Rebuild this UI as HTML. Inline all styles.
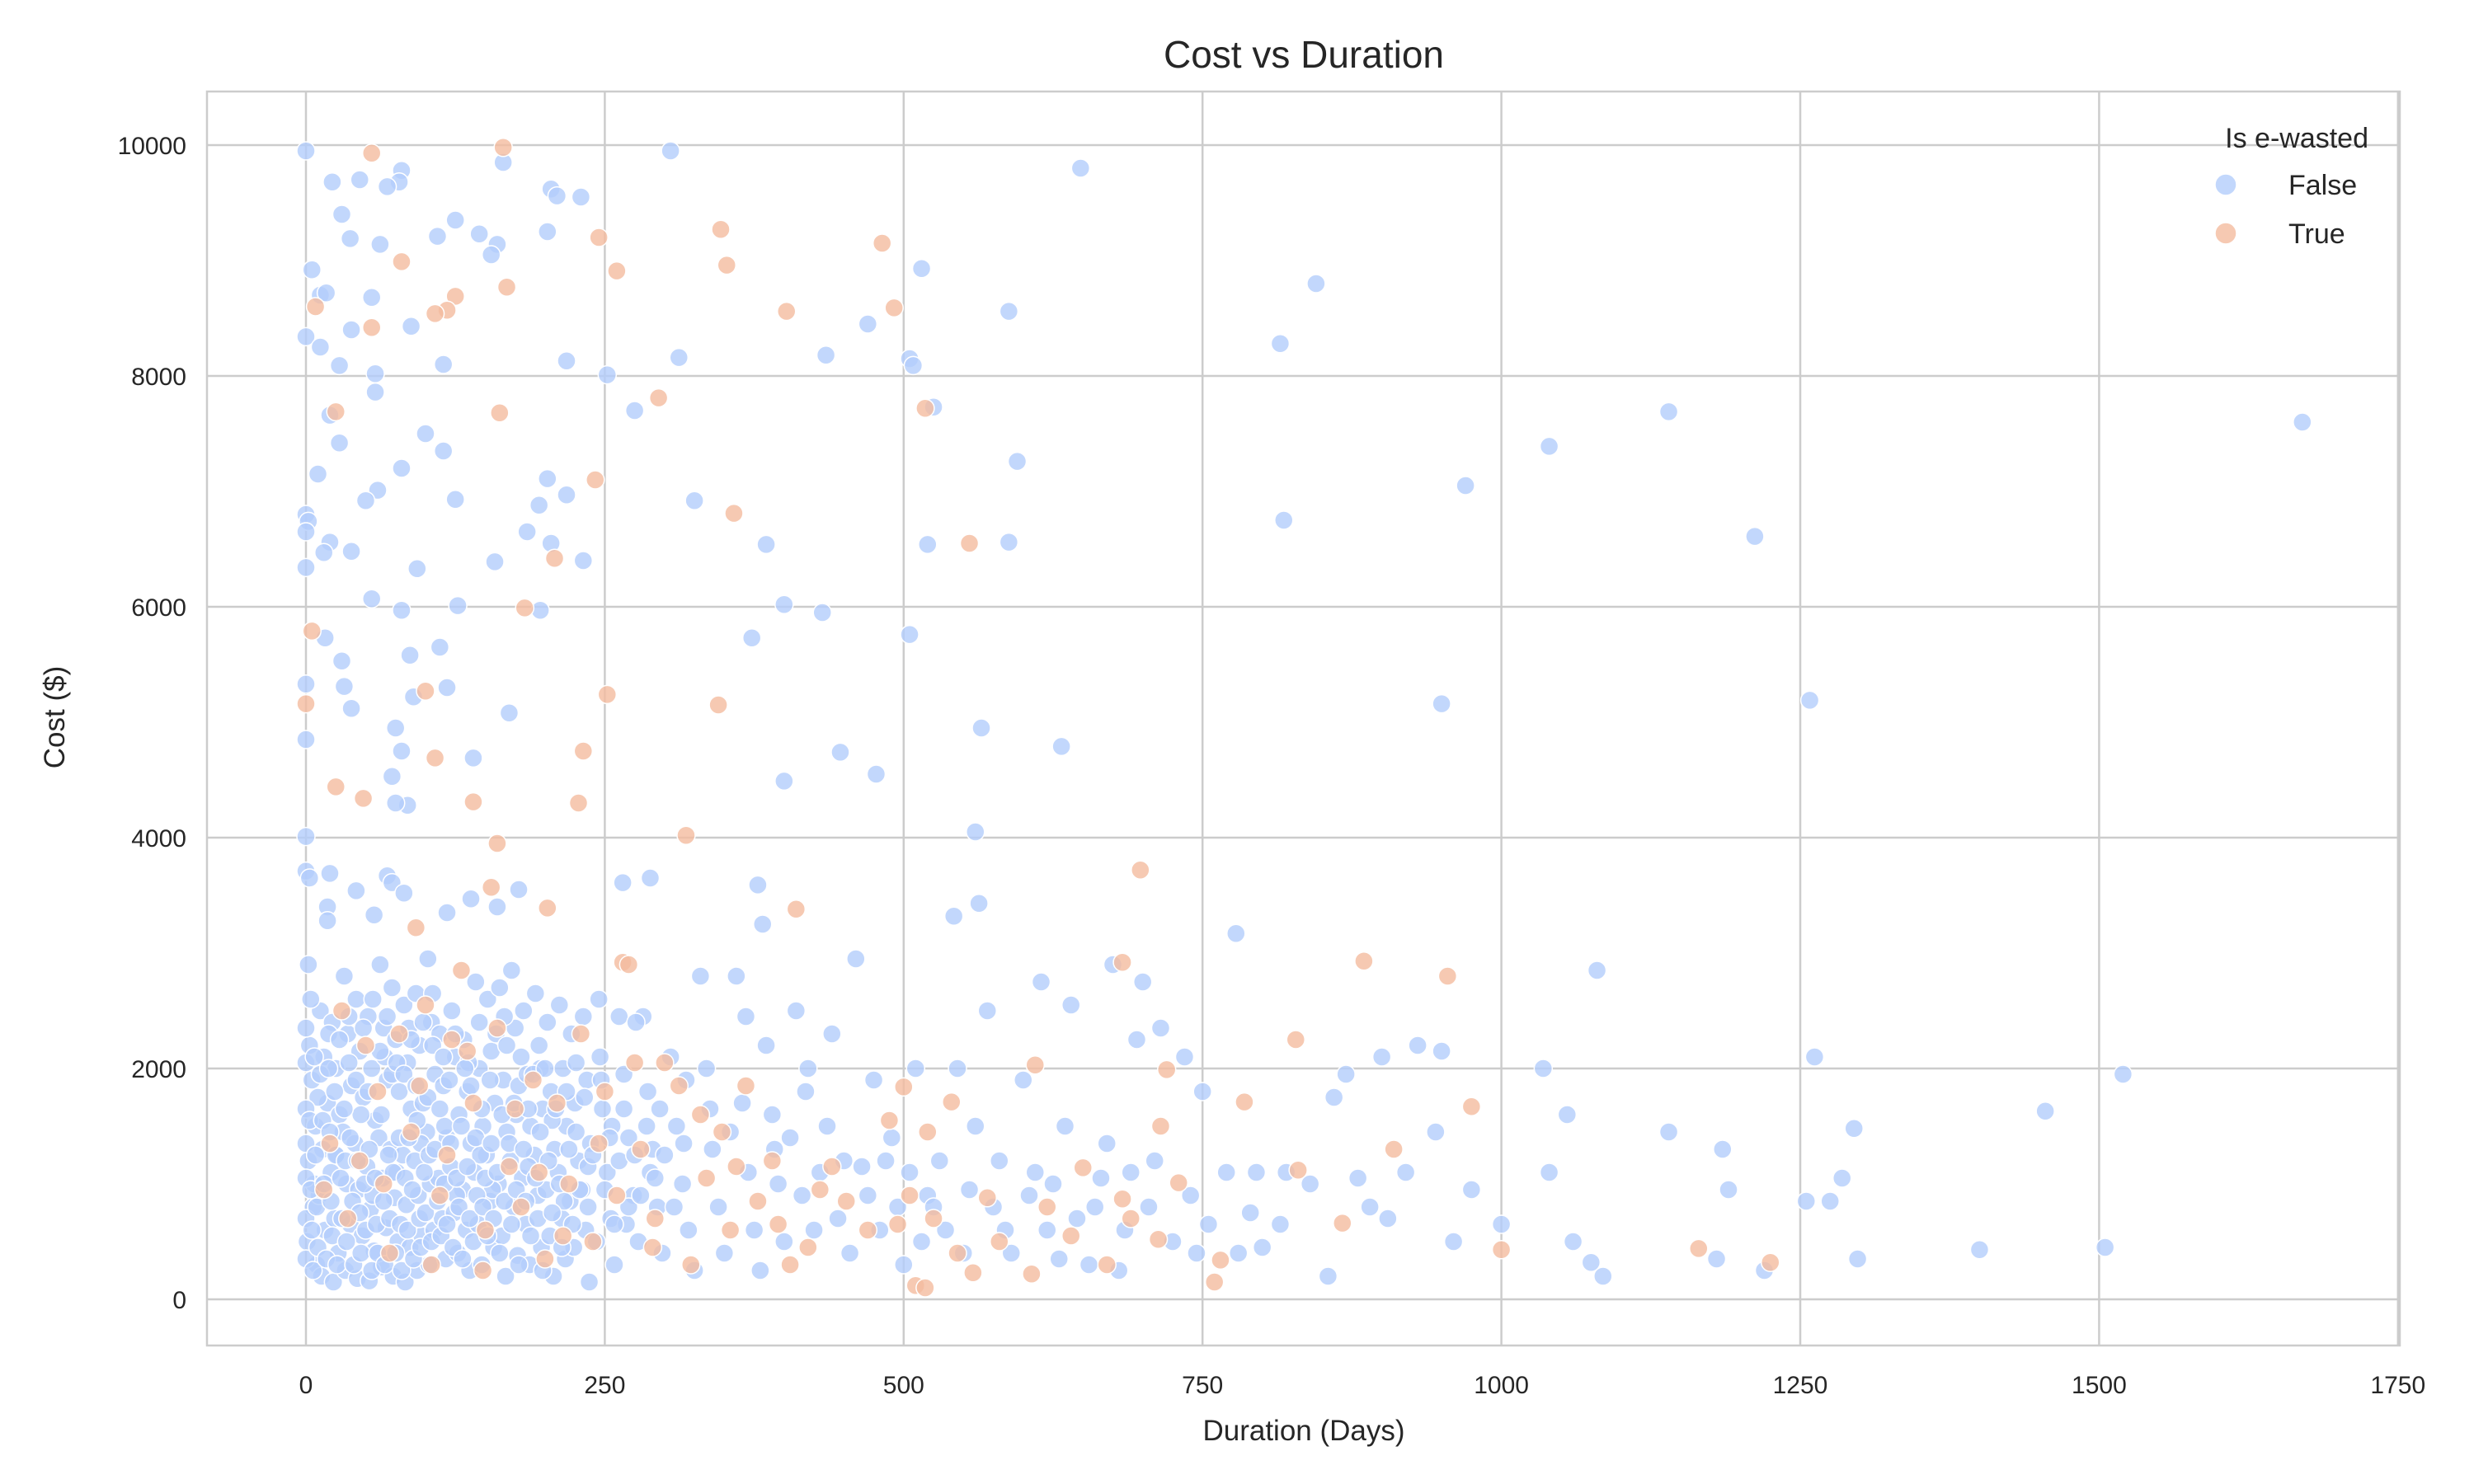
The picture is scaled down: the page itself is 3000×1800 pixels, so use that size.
<!DOCTYPE html>
<html><head><meta charset="utf-8"><style>
html,body{margin:0;padding:0;background:#fff;}
svg{display:block;font-family:"Liberation Sans",sans-serif;}
</style></head><body>
<svg id="chart" width="3000" height="1800" viewBox="0 0 3000 1800" xmlns="http://www.w3.org/2000/svg">
<rect width="3000" height="1800" fill="#fff"/>
<g id="grid"></g>
<g id="pts"></g>
<rect x="251" y="111" width="2659" height="1521" fill="none" stroke="#cccccc" stroke-width="2.5"/>
<g id="ticks" font-size="30" fill="#262626"></g>
<text x="1581" y="82" font-size="46" text-anchor="middle" fill="#262626">Cost vs Duration</text>
<text x="1581" y="1747" font-size="35" text-anchor="middle" fill="#262626">Duration (Days)</text>
<text transform="translate(78,870) rotate(-90)" font-size="35" text-anchor="middle" fill="#262626">Cost ($)</text>
<g>
<text x="2872" y="179" font-size="34" text-anchor="end" fill="#262626">Is e-wasted</text>
<circle cx="2699" cy="224" r="13" fill="#b3cdfb" fill-opacity="0.8" stroke="#fff" stroke-width="1.5"/>
<text x="2775" y="236" font-size="34" fill="#262626">False</text>
<circle cx="2699" cy="283" r="13" fill="#f4bc9f" fill-opacity="0.8" stroke="#fff" stroke-width="1.5"/>
<text x="2775" y="295" font-size="34" fill="#262626">True</text>
</g>
</svg>
<script>
const xTicks=[0,250,500,750,1000,1250,1500,1750];
const yTicks=[0,2000,4000,6000,8000,10000];
const falseData=[[0,9950],[305,9950],[648,9800],[165,9850],[80,9780],[45,9700],[22,9680],[78,9680],[68,9640],[205,9620],[210,9560],[230,9550],[125,9350],[30,9400],[145,9230],[110,9210],[37,9190],[160,9140],[62,9140],[155,9050],[202,9250],[515,8930],[5,8920],[845,8800],[12,8700],[17,8720],[55,8680],[588,8560],[470,8450],[38,8400],[88,8430],[0,8340],[815,8280],[12,8250],[505,8150],[312,8160],[218,8130],[435,8180],[115,8100],[28,8090],[508,8090],[58,8020],[252,8010],[58,7860],[525,7730],[1140,7690],[20,7660],[275,7700],[1670,7600],[100,7500],[28,7420],[1040,7390],[115,7350],[595,7260],[80,7200],[10,7150],[202,7110],[970,7050],[60,7010],[218,6970],[125,6930],[325,6920],[50,6920],[0,6800],[2,6740],[0,6650],[185,6650],[205,6550],[20,6560],[818,6750],[1212,6610],[385,6540],[520,6540],[588,6560],[15,6470],[38,6480],[195,6880],[232,6400],[158,6390],[0,6340],[93,6330],[400,6020],[127,6010],[55,6070],[432,5950],[196,5970],[80,5970],[373,5730],[505,5760],[16,5730],[87,5580],[112,5650],[30,5530],[118,5300],[0,5330],[32,5310],[90,5220],[38,5120],[950,5160],[1258,5190],[170,5080],[565,4950],[75,4950],[632,4790],[447,4740],[0,4850],[140,4690],[80,4750],[400,4490],[477,4550],[72,4530],[85,4280],[75,4300],[0,4010],[560,4050],[0,3710],[3,3650],[68,3670],[20,3690],[72,3610],[265,3610],[288,3650],[178,3550],[42,3540],[82,3520],[563,3430],[378,3590],[18,3400],[160,3400],[138,3470],[542,3320],[118,3350],[57,3330],[382,3250],[778,3170],[18,3280],
[3,2200],[5,1900],[8,1500],[2,1200],[6,800],[1,500],[9,300],[12,2500],[15,2100],[18,1700],[14,1300],[11,900],[16,600],[13,200],[22,2400],[25,2000],[28,1600],[21,1100],[24,700],[27,400],[23,150],[32,2800],[35,2300],[38,1850],[31,1450],[34,1000],[37,650],[33,250],[42,2600],[45,2150],[48,1750],[41,1350],[44,950],[47,550],[43,180],[52,2450],[55,2000],[58,1550],[51,1150],[54,780],[57,420],[53,160],[62,2900],[65,2350],[68,1900],[61,1400],[64,1050],[67,620],[63,280],[72,2700],[75,2250],[78,1800],[71,1300],[74,880],[77,500],[73,200],[82,2550],[85,2050],[88,1650],[81,1250],[84,820],[87,450],[83,150],[92,2650],[95,2200],[98,1700],[91,1200],[94,900],[97,550],[93,250],[102,2950],[105,2400],[108,1950],[101,1450],[104,1000],[107,600],[103,300],[112,2300],[115,1850],[118,1400],[111,1050],[114,700],[117,350],[122,2500],[125,2100],[128,1600],[121,1150],[124,750],[127,400],[132,2250],[135,1800],[138,1350],[131,950],[134,600],[137,250],[142,2750],[145,2000],[148,1500],[141,1100],[144,650],[147,300],[152,2600],[155,2150],[158,1700],[151,1250],[154,850],[157,450],[162,2700],[165,1900],[168,1450],[161,1000],[164,550],[167,200],[172,2850],[175,2350],[178,1850],[171,1200],[174,800],[177,380],[182,2500],[185,1950],[188,1500],[181,1050],[184,650],[187,300],[192,2650],[195,2200],[198,1650],[191,1250],[194,900],[197,450],[202,2400],[205,1800],[208,1300],[201,950],[204,550],[207,200],[212,2550],[215,2000],[218,1500],[211,1100],[214,700],[217,350],[222,2300],[225,1700],[228,1200],[221,850],[224,450],[232,2450],[235,1900],[238,1350],[231,950],[234,600],[237,150],[245,2600],[248,1650],[252,1100],[255,700],[258,300],[262,2450],[266,1950],[270,1400],[274,900],[278,500],[282,2450],[286,1800],[290,1300],[294,800],[298,400],[305,2100],[310,1500],[315,1000],[320,600],[325,250],[330,2800],[335,2000],[340,1300],[345,800],[350,400],[360,2800],[365,1700],[370,1100],[375,600],[380,250],[385,2200],[390,1600],[395,1000],[400,500],[405,1400],[410,2500],[415,900],[420,2000],[425,600],[430,1100],[440,2300],[445,700],[450,1200],[455,400],[460,2950],[470,900],[475,1900],[480,600],[490,1400],[495,800],[500,300],[505,1100],[510,2000],[515,500],[520,900],[530,1200],[535,600],[545,2000],[550,400],[560,1500],[570,2500],[575,800],[580,1200],[590,400],[600,1900],[605,900],[615,2750],[620,600],[625,1000],[635,1500],[640,2550],[645,700],[655,300],[660,800],[670,1350],[675,2900],[685,600],[690,1100],[695,2250],[700,2750],[705,800],[715,2350],[725,500],[735,2100],[740,900],[750,1800],[755,650],[770,1100],[780,400],[795,1100],[800,450],[815,650],[840,1000],[855,200],[860,1750],[870,1950],[880,1050],[900,2100],[905,700],[920,1100],[930,2200],[945,1450],[950,2150],[960,500],[975,950],[1000,650],[1035,2000],[1040,1100],[1055,1600],[1060,500],[1080,2850],[1085,200],[1140,1450],[1185,1300],[1190,950],[1255,850],[1262,2100],[1275,850],[1285,1050],[1295,1480],[1298,350],[1400,430],[1455,1630],[1505,450],[1520,1950],[1180,350],[1220,250],[1075,320],
[4,2600],[7,1000],[10,1750],[19,2300],[26,1250],[36,2050],[46,1600],[56,900],[66,2100],[76,1100],[86,2350],[96,1350],[106,2200],[116,1500],[126,900],[136,2050],[146,1250],[156,950],[166,2450],[176,1600],[186,1150],[196,2000],[206,1550],[216,850],[226,2050],[236,1150],[246,2100],[256,1500],[268,650],[276,2400],[288,1100],[296,1650],[318,1900],[338,1650],[355,1450],[368,2450],[392,1300],[418,1800],[436,1500],[465,1150],[485,1200],[525,800],[555,950],[585,600],[610,1100],[630,350],[665,1050],[680,250],[710,1200],[745,400],[790,750],[820,1100],[890,800]];
const falseDense=[[0,2350],[0,2050],[0,1650],[0,1350],[0,1050],[0,700],[0,350],[2,2900],[3,1550],[4,950],[5,600],[6,250],[7,2100],[8,1250],[9,800],[10,450],[12,1950],[14,1550],[15,1000],[17,350],[19,2000],[20,1450],[21,850],[22,550],[24,1800],[25,1250],[26,300],[28,2250],[29,1050],[30,700],[32,1650],[33,1200],[34,500],[36,2450],[37,1400],[39,850],[40,300],[42,1900],[43,1200],[45,750],[46,400],[48,2350],[49,1000],[50,600],[52,1800],[53,1300],[55,250],[56,2600],[58,1050],[59,650],[60,400],[62,2150],[63,1600],[65,850],[66,300],[68,2450],[69,1250],[70,700],[72,1950],[73,1100],[75,400],[76,2050],[78,1400],[79,650],[80,250],[82,1950],[83,1050],[85,600],[86,1400],[88,2250],[89,950],[90,350],[92,1850],[93,1550],[95,700],[96,450],[98,2400],[99,1100],[100,750],[102,1750],[103,1250],[105,500],[106,2650],[108,1300],[110,850],[112,1650],[113,550],[115,2100],[116,1000],[118,650],[120,1900],[121,1350],[123,450],[125,2300],[126,1050],[128,800],[130,1500],[131,350],[133,2000],[135,1150],[137,700],[138,1850],[140,500],[142,1400],[143,900],[145,2400],[147,1650],[148,800],[150,1050],[152,550],[154,1900],[155,1350],[157,700],[159,2300],[160,1100],[162,400],[164,1600],[166,850],[168,2200],[170,1350],[172,650],[174,1700],[176,950],[178,300],[180,2100],[182,1300],[184,850],[186,1650],[188,550],[190,1950],[192,1050],[194,700],[196,1450],[198,250],[200,2000],[203,1200],[206,750],[209,1650],[212,1000],[214,450],[218,1800],[220,1300],[223,650],[226,1450],[229,950],[233,1750],[236,800],[240,1250],[243,500],[247,1900],[250,950],[254,1400],[258,650],[262,1200],[266,1650],[270,800],[275,1250],[280,900],[285,1500],[292,1050],[300,1250],[308,800],[316,1350]];
const trueData=[[55,9930],[165,9980],[347,9270],[245,9200],[482,9150],[352,8960],[80,8990],[260,8910],[125,8690],[168,8770],[8,8600],[118,8570],[108,8540],[402,8560],[492,8590],[55,8420],[25,7690],[162,7680],[295,7810],[518,7720],[242,7100],[358,6810],[555,6550],[208,6420],[183,5990],[5,5790],[252,5240],[100,5270],[0,5160],[345,5150],[232,4750],[25,4440],[48,4340],[108,4690],[140,4310],[228,4300],[318,4020],[160,3950],[698,3720],[265,2920],[410,3380],[202,3390],[92,3220],[155,3570],[885,2930],[955,2800],[683,2920],[828,2250],[610,2030],[975,1670],[785,1710],[720,1990],[1000,430],[1165,440],[1225,320],[910,1300],[867,660],[830,1120],[765,340],[760,150],[730,1010],[713,520],[650,1140],[683,870],[500,1840],[540,1710],[520,1450],[558,230],[510,120],[518,100],[607,220],[570,880],
[20,1350],[35,700],[50,2200],[60,1800],[70,400],[88,1450],[100,2550],[112,900],[122,2250],[130,2850],[140,1700],[150,600],[160,2350],[170,1150],[180,800],[190,1900],[200,350],[210,1700],[220,1000],[230,2300],[240,500],[250,1800],[260,900],[270,2900],[280,1300],[292,700],[300,2050],[312,1850],[322,300],[335,1050],[348,1450],[355,600],[368,1850],[378,850],[390,1200],[405,300],[420,450],[440,1150],[452,850],[470,600],[488,1550],[495,650],[505,900],[525,700],[545,400],[580,500],[620,800],[640,550],[670,300],[690,700],[715,1500],
[15,950],[30,2500],[45,1200],[65,1000],[78,2300],[95,1850],[105,300],[118,1250],[135,2150],[148,250],[175,1650],[195,1100],[215,550],[245,1350],[275,2050],[290,450],[330,1600],[360,1150],[395,650],[430,950]];
const X0=371, XS=362.4/250, Y0=1576, YS=1400/10000;
const xScale=d=>X0+d*XS, yScale=c=>Y0-c*YS;
const NS="http://www.w3.org/2000/svg";
const grid=document.getElementById('grid'), ticks=document.getElementById('ticks'), pts=document.getElementById('pts');
xTicks.forEach(t=>{
  const l=document.createElementNS(NS,'line');
  
  
  l.setAttribute('x1',xScale(t));l.setAttribute('x2',xScale(t));l.setAttribute('y1',111);l.setAttribute('y2',1632);
  l.setAttribute('stroke','#cccccc');l.setAttribute('stroke-width','2.5');grid.appendChild(l);
  const tx=document.createElementNS(NS,'text');
  
  
  tx.setAttribute('x',xScale(t));tx.setAttribute('y',1690);tx.setAttribute('text-anchor','middle');tx.textContent=t;ticks.appendChild(tx);
});
yTicks.forEach(t=>{
  const l=document.createElementNS(NS,'line');
  
  
  l.setAttribute('x1',251);l.setAttribute('x2',2910);l.setAttribute('y1',yScale(t));l.setAttribute('y2',yScale(t));
  l.setAttribute('stroke','#cccccc');l.setAttribute('stroke-width','2.5');grid.appendChild(l);
  const tx=document.createElementNS(NS,'text');
  
  
  tx.setAttribute('x',226);tx.setAttribute('y',yScale(t)+11);tx.setAttribute('text-anchor','end');tx.textContent=t;ticks.appendChild(tx);
});
function draw(data,color,name){
  data.forEach(p=>{
    const c=document.createElementNS(NS,'circle');
    
    
    c.setAttribute('cx',xScale(p[0]));c.setAttribute('cy',yScale(p[1]));c.setAttribute('r',11);
    c.setAttribute('fill',color);c.setAttribute('fill-opacity','0.8');c.setAttribute('stroke','#fff');c.setAttribute('stroke-width','1.5');
    pts.appendChild(c);
  });
}
draw(falseData,'#b3cdfb','point-false');
draw(falseDense,'#b3cdfb','point-false');
draw(trueData,'#f4bc9f','point-true');
</script>
</body></html>
